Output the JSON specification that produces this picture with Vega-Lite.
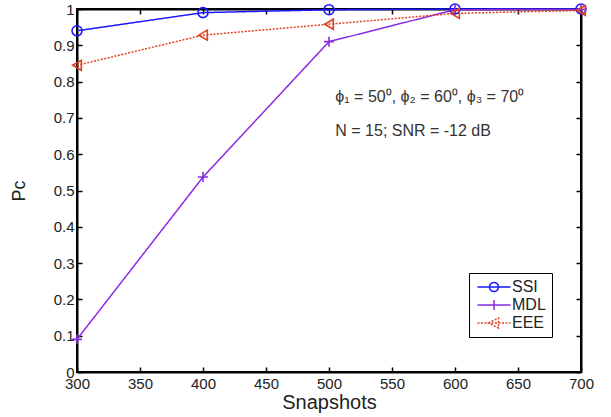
{
  "$schema": "https://vega.github.io/schema/vega-lite/v6.json",
  "width": 504,
  "height": 363,
  "autosize": {"type": "none"},
  "padding": {"left": 77, "top": 9, "right": 30, "bottom": 45},
  "background": "white",
  "config": {
    "view": {"stroke": "black", "strokeWidth": 2},
    "font": "Liberation Sans",
    "axis": {
      "grid": false,
      "domainColor": "black",
      "domainWidth": 2,
      "tickColor": "black",
      "tickWidth": 1.5,
      "tickSize": -5,
      "labelFont": "Liberation Sans",
      "labelFontSize": 15,
      "labelColor": "#222",
      "labelOverlap": false,
      "labelFlush": false,
      "titleFont": "Liberation Sans",
      "titleFontWeight": "normal",
      "titleColor": "#222"
    }
  },
  "data": {
    "values": [
      {"series": "SSI", "snap": 300, "pc": 0.94},
      {"series": "SSI", "snap": 400, "pc": 0.99},
      {"series": "SSI", "snap": 500, "pc": 0.998},
      {"series": "SSI", "snap": 600, "pc": 1.0},
      {"series": "SSI", "snap": 700, "pc": 1.0},
      {"series": "MDL", "snap": 300, "pc": 0.09},
      {"series": "MDL", "snap": 400, "pc": 0.537},
      {"series": "MDL", "snap": 500, "pc": 0.91},
      {"series": "MDL", "snap": 600, "pc": 0.998},
      {"series": "MDL", "snap": 700, "pc": 0.999},
      {"series": "EEE", "snap": 300, "pc": 0.845},
      {"series": "EEE", "snap": 400, "pc": 0.928},
      {"series": "EEE", "snap": 500, "pc": 0.958},
      {"series": "EEE", "snap": 600, "pc": 0.988},
      {"series": "EEE", "snap": 700, "pc": 0.996}
    ]
  },
  "resolve": {"axis": {"x": "independent", "y": "independent"}},
  "layer": [
    {
      "encoding": {
        "x": {"field": "snap", "type": "quantitative",
              "scale": {"domain": [300, 700], "nice": false},
              "axis": {"values": [300, 350, 400, 450, 500, 550, 600, 650, 700], "title": "Snapshots", "titleFontSize": 20, "labelPadding": 9, "titlePadding": 1}},
        "y": {"field": "pc", "type": "quantitative",
              "scale": {"domain": [0, 1], "nice": false},
              "axis": {"values": [0, 0.1, 0.2, 0.3, 0.4, 0.5, 0.6, 0.7, 0.8, 0.9, 1], "format": "~g", "title": "Pc", "titleFontSize": 18, "labelPadding": 8, "titlePadding": 25}},
        "color": {"field": "series", "type": "nominal",
                  "scale": {"domain": ["SSI", "MDL", "EEE"], "range": ["#1a1aff", "#8a2be2", "#e0421f"]}}
      },
      "layer": [
        {
          "mark": {"type": "line", "strokeWidth": 1.5},
          "encoding": {
            "strokeDash": {"field": "series", "type": "nominal",
                           "scale": {"domain": ["SSI", "MDL", "EEE"], "range": [[1, 0], [1, 0], [2, 1.5]]}}
          }
        },
        {
          "transform": [{"filter": "datum.series === 'SSI'"}],
          "mark": {"type": "point", "shape": "circle", "filled": false, "strokeWidth": 1.6, "opacity": 1, "size": 100}
        },
        {
          "transform": [{"filter": "datum.series === 'MDL'"}],
          "mark": {"type": "point", "shape": "M-1,0H1M0,-1V1", "filled": false, "strokeWidth": 1.6, "opacity": 1, "size": 100}
        },
        {
          "transform": [{"filter": "datum.series === 'EEE'"}],
          "mark": {"type": "point", "shape": "triangle-left", "filled": false, "strokeWidth": 1.6, "opacity": 1, "size": 100}
        },
        {
          "transform": [{"filter": "false"}],
          "mark": {"type": "point", "filled": false, "strokeWidth": 1.5},
          "encoding": {
            "shape": {"field": "series", "type": "nominal",
                      "scale": {"domain": ["SSI", "MDL", "EEE"], "range": [
                        "M-3.3,0H3.3M0.9,0A0.9,0.9 0 1,1 -0.9,0A0.9,0.9 0 1,1 0.9,0",
                        "M-3.3,0H3.3M0,-1V1",
                        "M-3.3,0H3.3M-1.1,0L0.9,-1L0.9,1Z"]},
                      "legend": {
                        "title": null,
                        "orient": "none",
                        "legendX": 392,
                        "legendY": 264,
                        "padding": 6,
                        "strokeColor": "black",
                        "fillColor": "white",
                        "labelFontSize": 16,
                        "labelColor": "#222",
                        "symbolSize": 100,
                        "symbolStrokeWidth": 1.5,
                        "symbolOpacity": 1,
                        "symbolOffset": 11,
                        "rowPadding": 2,
                        "labelOffset": 10
                      }},
            "strokeDash": {"field": "series", "type": "nominal"}
          }
        }
      ]
    },
    {
      "mark": {"type": "point", "opacity": 0},
      "encoding": {
        "x": {"field": "snap", "type": "quantitative",
              "axis": {"orient": "top", "values": [300, 350, 400, 450, 500, 550, 600, 650, 700], "labels": false, "title": null}},
        "y": {"field": "pc", "type": "quantitative",
              "axis": {"orient": "right", "values": [0, 0.1, 0.2, 0.3, 0.4, 0.5, 0.6, 0.7, 0.8, 0.9, 1], "labels": false, "title": null}}
      }
    },
    {
      "data": {"values": [{}]},
      "mark": {"type": "text", "align": "left", "baseline": "middle", "fontSize": 16, "fontWeight": "normal", "font": "Liberation Sans", "color": "#333", "text": "ϕ₁ = 50⁰, ϕ₂ = 60⁰, ϕ₃ = 70⁰"},
      "encoding": {
        "x": {"datum": 505, "type": "quantitative", "axis": null},
        "y": {"datum": 0.757, "type": "quantitative", "axis": null}
      }
    },
    {
      "data": {"values": [{}]},
      "mark": {"type": "text", "align": "left", "baseline": "middle", "fontSize": 16, "fontWeight": "normal", "font": "Liberation Sans", "color": "#333", "text": "N = 15; SNR = -12 dB"},
      "encoding": {
        "x": {"datum": 505, "type": "quantitative", "axis": null},
        "y": {"datum": 0.664, "type": "quantitative", "axis": null}
      }
    }
  ]
}
